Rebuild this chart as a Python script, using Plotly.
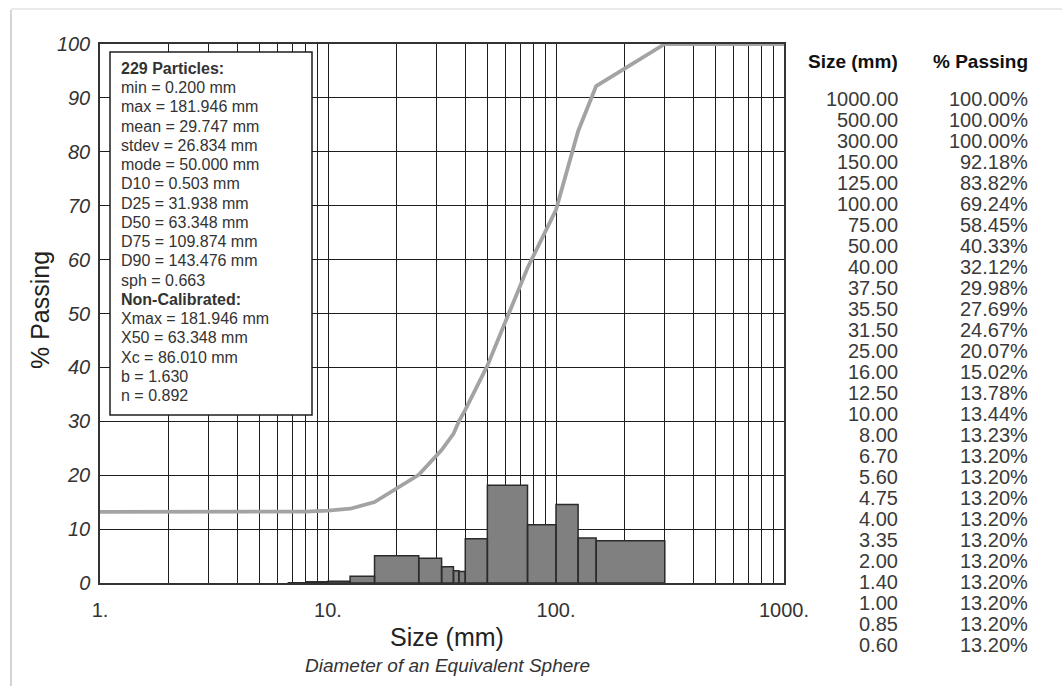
import plotly.graph_objects as go

# ---------------- data ----------------
sizes = [1000.00, 500.00, 300.00, 150.00, 125.00, 100.00, 75.00, 50.00, 40.00,
         37.50, 35.50, 31.50, 25.00, 16.00, 12.50, 10.00, 8.00, 6.70, 5.60,
         4.75, 4.00, 3.35, 2.00, 1.40, 1.00, 0.85, 0.60]
passing = [100.00, 100.00, 100.00, 92.18, 83.82, 69.24, 58.45, 40.33, 32.12,
           29.98, 27.69, 24.67, 20.07, 15.02, 13.78, 13.44, 13.23, 13.20, 13.20,
           13.20, 13.20, 13.20, 13.20, 13.20, 13.20, 13.20, 13.20]

bin_lo = [6.7, 8.0, 10.0, 12.5, 16.0, 25.0, 31.5, 35.5, 37.5, 40.0, 50.0, 75.0, 100.0, 125.0, 150.0]
bin_hi = [8.0, 10.0, 12.5, 16.0, 25.0, 31.5, 35.5, 37.5, 40.0, 50.0, 75.0, 100.0, 125.0, 150.0, 300.0]
bin_pct = [0.03, 0.21, 0.34, 1.24, 5.05, 4.60, 3.02, 2.29, 2.14, 8.21, 18.12, 10.79, 14.58, 8.36, 7.82]

x_tickvals = [1, 10, 100, 1000]
x_ticktext = ["1.", "10.", "100.", "1000."]
x_minor = [m * d for d in (1, 10, 100) for m in range(2, 10)]
y_tickvals = [0, 10, 20, 30, 40, 50, 60, 70, 80, 90, 100]

stats_lines = [
    "<b>229 Particles:</b>",
    "min = 0.200 mm",
    "max = 181.946 mm",
    "mean = 29.747 mm",
    "stdev = 26.834 mm",
    "mode = 50.000 mm",
    "D10 = 0.503 mm",
    "D25 = 31.938 mm",
    "D50 = 63.348 mm",
    "D75 = 109.874 mm",
    "D90 = 143.476 mm",
    "sph = 0.663",
    "<b>Non-Calibrated:</b>",
    "Xmax = 181.946 mm",
    "X50 = 63.348 mm",
    "Xc = 86.010 mm",
    "b = 1.630",
    "n = 0.892",
]

# ---------------- layout geometry (pixels) ----------------
W, H = 1062, 686
L, R, T, B = 100, 784, 44, 583


def px2x(px):
    return (px - L) / (R - L)


def py2y(py):
    return (B - py) / (B - T)


FONT = "Liberation Sans, Arial, sans-serif"

fig = go.Figure()

# histogram bars as polygons
bx, by = [], []
for lo, hi, h in zip(bin_lo, bin_hi, bin_pct):
    bx += [lo, lo, hi, hi, lo, None]
    by += [0, h, h, 0, 0, None]
fig.add_trace(go.Scatter(
    x=bx, y=by, mode="lines", fill="toself",
    fillcolor="#808080", line=dict(color="#2b2b2b", width=1.5),
    hoverinfo="skip", showlegend=False,
))

# cumulative passing curve
fig.add_trace(go.Scatter(
    x=sizes[::-1], y=passing[::-1], mode="lines",
    line=dict(color="#a3a3a3", width=3.8),
    showlegend=False,
))

grid_col = "#1e1e1e"
fig.update_xaxes(
    type="log", range=[0, 3],
    tickmode="array", tickvals=x_tickvals, ticktext=x_ticktext,
    showgrid=True, gridcolor=grid_col, gridwidth=1.2,
    minor=dict(tickmode="array", tickvals=x_minor, showgrid=True,
               gridcolor=grid_col, gridwidth=1.2, ticks=""),
    showline=True, linecolor="#333333", linewidth=2, mirror=True,
    ticks="", ticklabelstandoff=8,
    tickfont=dict(family=FONT, size=20, color="#333333"),
    zeroline=False,
)
fig.update_yaxes(
    range=[0, 100], tickmode="array", tickvals=y_tickvals,
    showgrid=True, gridcolor=grid_col, gridwidth=1.2,
    showline=True, linecolor="#333333", linewidth=1.5, mirror=True,
    ticks="", ticklabelstandoff=4,
    tickfont=dict(family=FONT, size=20, color="#333333", style="italic"),
    zeroline=False,
)

annotations = []
shapes = []

# stats box (frame + one text line per row)
shapes.append(dict(
    type="rect", xref="paper", yref="paper", layer="above",
    x0=px2x(110), x1=px2x(312), y0=py2y(415), y1=py2y(52),
    fillcolor="white", line=dict(color="#1e1e1e", width=1.5),
))
st0, st_step = 68.3, 19.26
for i, line in enumerate(stats_lines):
    annotations.append(dict(
        xref="paper", yref="paper", x=px2x(119), y=py2y(st0 + i * st_step),
        xanchor="left", yanchor="middle", align="left",
        text=line, showarrow=False,
        font=dict(family=FONT, size=16, color="#333333"),
    ))

# axis titles
annotations.append(dict(
    xref="paper", yref="paper", x=px2x(40), y=py2y(310),
    xanchor="center", yanchor="middle",
    text="% Passing", textangle=-90, showarrow=False,
    font=dict(family=FONT, size=25, color="#222222"),
))
annotations.append(dict(
    xref="paper", yref="paper", x=px2x(447), y=py2y(637),
    xanchor="center", yanchor="middle",
    text="Size (mm)", showarrow=False,
    font=dict(family=FONT, size=25, color="#222222"),
))
annotations.append(dict(
    xref="paper", yref="paper", x=px2x(447), y=py2y(665),
    xanchor="center", yanchor="middle",
    text="Diameter of an Equivalent Sphere", showarrow=False,
    font=dict(family=FONT, size=19, color="#333333", style="italic"),
))

# table headers
annotations.append(dict(
    xref="paper", yref="paper", x=px2x(900), y=py2y(61),
    xanchor="right", yanchor="middle", text="<b>Size (mm)</b>", showarrow=False,
    font=dict(family=FONT, size=19, color="#111111"),
))
annotations.append(dict(
    xref="paper", yref="paper", x=px2x(1030), y=py2y(61),
    xanchor="right", yanchor="middle", text="<b>% Passing</b>", showarrow=False,
    font=dict(family=FONT, size=19, color="#111111"),
))

# table rows
row0, row_step = 99.5, 20.98
for i, (s, p) in enumerate(zip(sizes, passing)):
    yy = py2y(row0 + i * row_step)
    annotations.append(dict(
        xref="paper", yref="paper", x=px2x(900), y=yy,
        xanchor="right", yanchor="middle",
        text=f"{s:.2f}", showarrow=False,
        font=dict(family=FONT, size=20, color="#3a3a3a"),
    ))
    annotations.append(dict(
        xref="paper", yref="paper", x=px2x(1030), y=yy,
        xanchor="right", yanchor="middle",
        text=f"{p:.2f}%", showarrow=False,
        font=dict(family=FONT, size=20, color="#3a3a3a"),
    ))

# soft frame (left and top edges of card)
shapes += [
    dict(type="line", xref="paper", yref="paper",
         x0=px2x(11), x1=px2x(11), y0=py2y(10), y1=py2y(686),
         line=dict(color="#d4d4d4", width=2)),
    dict(type="line", xref="paper", yref="paper",
         x0=px2x(11), x1=px2x(1062), y0=py2y(9), y1=py2y(9),
         line=dict(color="#e2e2e2", width=1.5)),
]

fig.update_layout(
    width=W, height=H,
    margin=dict(l=L, r=W - R, t=T, b=H - B),
    paper_bgcolor="white", plot_bgcolor="white",
    showlegend=False,
    annotations=annotations,
    shapes=shapes,
    font=dict(family=FONT),
)

fig.write_html(
    "out.html",
    config={"displayModeBar": False},
    post_script="document.body.style.margin='0';document.body.style.overflow='hidden';",
)
